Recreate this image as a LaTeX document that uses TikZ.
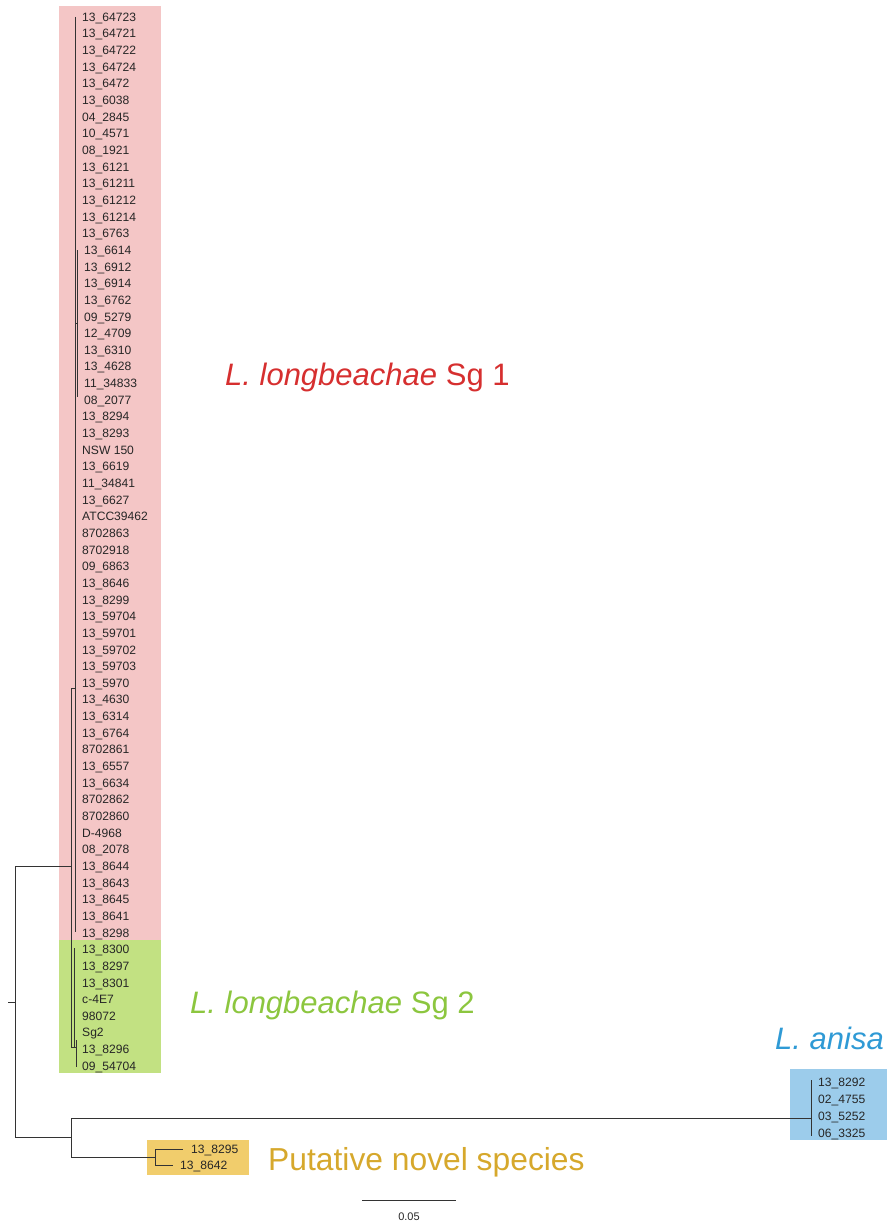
\documentclass[tikz,border=0pt]{standalone}
\usepackage{fontspec}
\setmainfont{Liberation Sans}
\definecolor{pinkbg}{HTML}{F4C6C6}
\definecolor{greenbg}{HTML}{C2E182}
\definecolor{bluebg}{HTML}{9CCCEB}
\definecolor{yellowbg}{HTML}{F1CD6C}
\definecolor{redtxt}{HTML}{D62F2F}
\definecolor{greentxt}{HTML}{8CC63F}
\definecolor{bluetxt}{HTML}{2F9AD5}
\definecolor{goldtxt}{HTML}{D6A82C}
\begin{document}
\begin{tikzpicture}[x=1pt,y=-1pt,
  branch/.style={draw=black!80, line width=1pt},
  leaf/.style={anchor=base west, inner sep=0pt, font=\fontsize{12.1}{14}\selectfont, text=black!85},
  clade/.style={anchor=base west, inner sep=0pt, font=\fontsize{31}{37}\selectfont}]
\useasboundingbox (0,0) rectangle (887,1223);
% background boxes
\fill[pinkbg] (59,6) rectangle (161,940);
\fill[greenbg] (59,940) rectangle (161,1073);
\fill[bluebg] (790,1069) rectangle (887,1140);
\fill[yellowbg] (147,1140) rectangle (249,1175);
% leaves of L. longbeachae
\foreach \lab [count=\i] in {13\_64723,13\_64721,13\_64722,13\_64724,13\_6472,13\_6038,04\_2845,10\_4571,08\_1921,13\_6121,13\_61211,13\_61212,13\_61214,13\_6763,13\_6614,13\_6912,13\_6914,13\_6762,09\_5279,12\_4709,13\_6310,13\_4628,11\_34833,08\_2077,13\_8294,13\_8293,NSW 150,13\_6619,11\_34841,13\_6627,ATCC39462,8702863,8702918,09\_6863,13\_8646,13\_8299,13\_59704,13\_59701,13\_59702,13\_59703,13\_5970,13\_4630,13\_6314,13\_6764,8702861,13\_6557,13\_6634,8702862,8702860,D-4968,08\_2078,13\_8644,13\_8643,13\_8645,13\_8641,13\_8298,13\_8300,13\_8297,13\_8301,c-4E7,98072,Sg2,13\_8296,09\_54704} {
  \pgfmathsetmacro{\yy}{17+(\i-1)*16.65+4.3}
  \pgfmathsetmacro{\xx}{ifthenelse(and(\i>14,\i<25),84,82)}
  \node[leaf] (l\i) at (\xx,\yy) {\lab};
}
% L. anisa leaves
\node[leaf] (a1) at (818,1086.3) {13\_8292};
\node[leaf] (a2) at (818,1103.3) {02\_4755};
\node[leaf] (a3) at (818,1120.3) {03\_5252};
\node[leaf] (a4) at (818,1137.3) {06\_3325};
% novel species leaves
\node[leaf] (p1) at (191,1153.3) {13\_8295};
\node[leaf] (p2) at (180,1169.3) {13\_8642};
% clade labels
\node[clade, text=redtxt] (sg1) at (225,385) {\textit{L. longbeachae} Sg 1};
\node[clade, text=greentxt] (sg2) at (190,1013) {\textit{L. longbeachae} Sg 2};
\node[clade, text=bluetxt] (anisa) at (775,1049) {\textit{L. anisa}};
\node[clade, text=goldtxt, font=\fontsize{31.8}{37}\selectfont] (novel) at (268,1170) {Putative novel species};
% tree coordinates
\coordinate (rs) at (8,1002);
\coordinate (root) at (15,1002);
\coordinate (r1) at (15,866);
\coordinate (r2) at (15,1137);
\coordinate (nA) at (71,866);
\coordinate (nAt) at (71,688);
\coordinate (nAb) at (71,1047);
\coordinate (s1) at (75,688);
\coordinate (s1t) at (75,17);
\coordinate (s1b) at (75,932);
\coordinate (s1m) at (75,323);
\coordinate (s1s) at (77,323);
\coordinate (s1st) at (77,250);
\coordinate (s1sb) at (77,397);
\coordinate (s2) at (74,1047);
\coordinate (s2t) at (74,948);
\coordinate (s2r) at (76,1047);
\coordinate (s2rt) at (76,1040);
\coordinate (s2rb) at (76,1067);
\coordinate (nB) at (71,1137);
\coordinate (nBt) at (71,1118);
\coordinate (nBb) at (71,1157);
\coordinate (an) at (811,1118);
\coordinate (ant) at (811,1080);
\coordinate (anb) at (811,1136);
\coordinate (pn) at (155,1157);
\coordinate (pnt) at (155,1149);
\coordinate (pnb) at (155,1165);
\coordinate (p1e) at (183,1149);
\coordinate (p2e) at (173,1165);
% branches
\draw[branch] (rs) -- (root);
\draw[branch] (r1) -- (r2);
\draw[branch] (r1) -- (nA);
\draw[branch] (r2) -- (nB);
\draw[branch] (nAt) -- (nAb);
\draw[branch] (nAt) -- (s1);
\draw[branch] (s1t) -- (s1b);
\draw[branch] (s1m) -- (s1s);
\draw[branch] (s1st) -- (s1sb);
\draw[branch] (nAb) -- (s2r);
\draw[branch] (s2t) -- (s2);
\draw[branch] (s2rt) -- (s2rb);
\draw[branch] (nBt) -- (nBb);
\draw[branch] (nBt) -- (an);
\draw[branch] (ant) -- (anb);
\draw[branch] (nBb) -- (pn);
\draw[branch] (pnt) -- (pnb);
\draw[branch] (pnt) -- (p1e);
\draw[branch] (pnb) -- (p2e);
% scale bar
\coordinate (sb1) at (362,1200);
\coordinate (sb2) at (456,1200);
\draw[branch] (sb1) -- (sb2);
\node[leaf, anchor=base, font=\fontsize{11}{13}\selectfont] (sbl) at (409,1220) {0.05};
\end{tikzpicture}
\end{document}
